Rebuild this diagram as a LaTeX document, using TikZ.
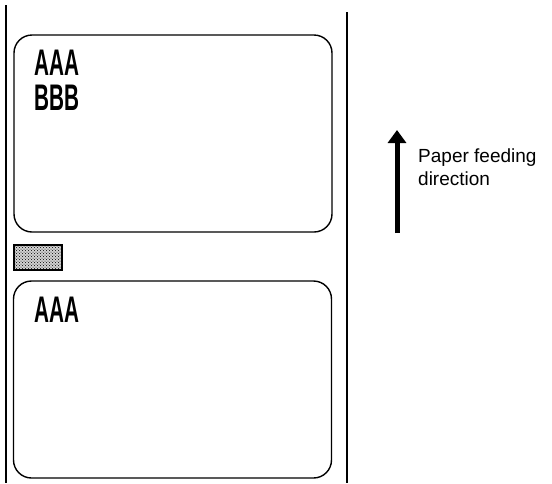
\documentclass[tikz,border=0pt]{standalone}
\usepackage{fontspec}
\setmainfont{Liberation Sans}
\usepackage{graphicx}
\usepackage{tikz}
\usetikzlibrary{arrows.meta,positioning,calc,patterns}
\tikzset{
  % paper web edges
  paperedge/.style={line width=1.3pt, black},
  % the rounded printed labels
  labelbox/.style={draw, line width=1.4pt, rounded corners=18pt,
    inner sep=0pt, minimum width=318pt},
  % the small stippled sensing mark
  markbox/.style={draw, line width=1.6pt, fill=gray!35,
    pattern color=black, inner sep=0pt, minimum width=48pt, minimum height=25pt},
  % printed characters, narrow printer face
  printtxt/.style={inner sep=0pt, font=\fontsize{37}{40}\selectfont\bfseries},
  % the feeding arrow
  feedarrow/.style={-{Triangle[length=13pt,width=18pt]}, line width=5pt},
  % explanatory caption
  captxt/.style={inner sep=0pt, align=left, font=\fontsize{19}{23}\selectfont},
}
\newcommand{\narrow}[1]{\scalebox{0.56}[1]{#1}}
\begin{document}
\begin{tikzpicture}[x=1pt, y=-1pt]
    \useasboundingbox (0,0) rectangle (552,483);
    % paper edges
    \coordinate (ltop) at (6,5);
    \coordinate (lbot) at (6,483);
    \coordinate (rtop) at (347,12);
    \coordinate (rbot) at (347,483);
    \draw[paperedge] (ltop) -- (lbot);
    \draw[paperedge] (rtop) -- (rbot);
    % labels
    \node[labelbox, minimum height=197pt] (upper) at (173,133.5) {};
    \node[labelbox, minimum height=197pt] (lower) at (172.5,379.5) {};
    % mark between the labels
    \node[markbox] (mark) at (38,257.5) {};
    \fill[pattern=crosshatch dots] (mark.south west) rectangle (mark.north east);
    % printed text
    \node[printtxt, anchor=base west] (aaaone) at (34,75) {\narrow{AAA}};
    \node[printtxt, anchor=base west] (bbbone) at (34,110) {\narrow{BBB}};
    \node[printtxt, anchor=base west] (aaatwo) at (34,322) {\narrow{AAA}};
    % feeding direction
    \coordinate (feedtail) at (397,233);
    \coordinate (feedhead) at (397,130);
    \draw[feedarrow] (feedtail) -- (feedhead);
    \node[captxt, anchor=base west] (feedcap) at (418,185)
      {Paper feeding\\direction};
\end{tikzpicture}
\end{document}
